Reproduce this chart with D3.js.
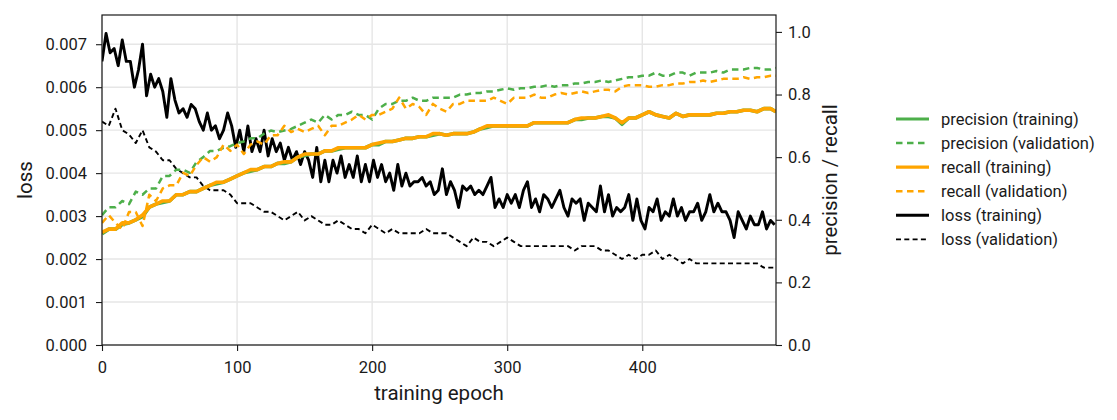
<!DOCTYPE html>
<html>
<head>
<meta charset="utf-8">
<script src="https://cdn.jsdelivr.net/npm/d3@7"></script>
<style>
  body { margin: 0; background: #fff; }
  svg text { font-family: Roboto, "DejaVu Sans", sans-serif; fill: #1a1a1a; }
  .axis path, .axis line { stroke: #1a1a1a; stroke-width: 1.1; }
  .grid line { stroke: #e6e6e6; stroke-width: 1.4; }
</style>
</head>
<body>
<svg id="chart" width="1117" height="420"></svg>
<script>
// epochs for the validation / precision / recall readings (every 5)
var epochs = [0,5,10,15,20,25,30,35,40,45,50,55,60,65,70,75,80,85,90,95,
  100,105,110,115,120,125,130,135,140,145,150,155,160,165,170,175,180,185,190,195,
  200,205,210,215,220,225,230,235,240,245,250,255,260,265,270,275,280,285,290,295,
  300,305,310,315,320,325,330,335,340,345,350,355,360,365,370,375,380,385,390,395,
  400,405,410,415,420,425,430,435,440,445,450,455,460,465,470,475,480,485,490,495,499];

// epochs for the training loss readings (every 3, it is the noisiest line)
var lossEpochs = [0,3,6,9,12,15,18,21,24,27,30,33,36,39,42,45,48,51,54,57,
  60,63,66,69,72,75,78,81,84,87,90,93,96,99,102,105,108,111,114,117,
  120,123,126,129,132,135,138,141,144,147,150,153,156,159,162,165,168,171,174,177,
  180,183,186,189,192,195,198,201,204,207,210,213,216,219,222,225,228,231,234,237,
  240,243,246,249,252,255,258,261,264,267,270,273,276,279,282,285,288,291,294,297,
  300,303,306,309,312,315,318,321,324,327,330,333,336,339,342,345,348,351,354,357,
  360,363,366,369,372,375,378,381,384,387,390,393,396,399,402,405,408,411,414,417,
  420,423,426,429,432,435,438,441,444,447,450,453,456,459,462,465,468,471,474,477,
  480,483,486,489,492,495,498];

var lossTrain = [0.0066,0.00725,0.0068,0.0069,0.0065,0.0071,0.0066,0.0066,0.0060,0.0064,
  0.0070,0.0058,0.0063,0.0060,0.0062,0.0059,0.0053,0.0062,0.0057,0.0054,
  0.0055,0.0053,0.0056,0.0055,0.0052,0.0050,0.0054,0.0050,0.0051,0.0048,
  0.0050,0.0054,0.0051,0.0046,0.0050,0.0045,0.0051,0.0045,0.0048,0.0045,
  0.0050,0.0044,0.0048,0.0045,0.0047,0.0043,0.0046,0.0043,0.0045,0.0042,
  0.0045,0.0043,0.0039,0.0046,0.0038,0.0043,0.0038,0.0043,0.0040,0.0044,
  0.0039,0.0042,0.0039,0.0044,0.0038,0.0042,0.0038,0.0043,0.0039,0.0042,
  0.0038,0.0040,0.0036,0.0042,0.0037,0.0040,0.0037,0.0038,0.0038,0.0039,
  0.0037,0.0038,0.0035,0.0036,0.0041,0.0035,0.0038,0.0036,0.0032,0.0037,
  0.0036,0.0037,0.0035,0.0036,0.0035,0.0037,0.0039,0.0032,0.0034,0.0032,
  0.0035,0.0033,0.0035,0.0032,0.0036,0.0038,0.0032,0.0034,0.0031,0.0035,
  0.0034,0.0032,0.0034,0.0036,0.0032,0.0030,0.0034,0.0033,0.0034,0.0029,
  0.0033,0.0032,0.0031,0.0037,0.0031,0.0035,0.0030,0.0032,0.0031,0.0032,
  0.0035,0.0029,0.0034,0.0029,0.0027,0.0032,0.0031,0.0034,0.0029,0.0031,
  0.0030,0.0034,0.0030,0.0032,0.0029,0.0031,0.0031,0.0033,0.0029,0.0031,
  0.0035,0.0031,0.0033,0.0031,0.0031,0.0029,0.0025,0.0031,0.0029,0.0027,
  0.0030,0.0028,0.0028,0.0031,0.0027,0.0029,0.0028];

var lossVal = [0.0052,0.0051,0.0055,0.0050,0.0049,0.0047,0.0050,0.0046,0.0045,0.0043,
  0.0043,0.0041,0.0040,0.0039,0.0039,0.0037,0.0036,0.0036,0.0036,0.0035,
  0.0033,0.0033,0.0033,0.0032,0.0031,0.0031,0.0030,0.0029,0.0030,0.0031,
  0.0029,0.0030,0.0029,0.0028,0.0028,0.0029,0.0028,0.0027,0.0027,0.0026,
  0.0028,0.0027,0.0026,0.0027,0.0026,0.0026,0.0026,0.0026,0.0027,0.0026,
  0.0026,0.0026,0.0025,0.0024,0.0023,0.0025,0.0024,0.0024,0.0023,0.0024,
  0.0025,0.0024,0.0023,0.0023,0.0023,0.0023,0.0023,0.0023,0.0023,0.0023,
  0.0022,0.0023,0.0023,0.0023,0.0022,0.0022,0.0021,0.0020,0.0021,0.0020,
  0.0021,0.0021,0.0022,0.0020,0.0021,0.0020,0.0019,0.0020,0.0019,0.0019,
  0.0019,0.0019,0.0019,0.0019,0.0019,0.0019,0.0019,0.0019,0.0018,0.0018,0.0018];

var recallTrain = [0.36,0.37,0.37,0.39,0.39,0.40,0.415,0.44,0.45,0.46,
  0.46,0.48,0.48,0.49,0.49,0.50,0.51,0.52,0.52,0.53,
  0.54,0.55,0.56,0.56,0.57,0.57,0.58,0.585,0.585,0.60,
  0.61,0.61,0.61,0.62,0.62,0.63,0.63,0.63,0.63,0.63,
  0.64,0.645,0.65,0.65,0.655,0.66,0.66,0.665,0.665,0.675,
  0.675,0.67,0.675,0.675,0.675,0.68,0.69,0.70,0.70,0.70,
  0.70,0.70,0.70,0.70,0.71,0.71,0.71,0.71,0.71,0.71,
  0.72,0.725,0.725,0.725,0.73,0.735,0.725,0.71,0.725,0.725,
  0.735,0.745,0.735,0.73,0.725,0.74,0.73,0.735,0.735,0.735,
  0.735,0.74,0.74,0.745,0.745,0.75,0.75,0.745,0.755,0.755,0.745];

var precisionTrain = [0.355,0.37,0.37,0.385,0.39,0.40,0.41,0.44,0.45,0.455,
  0.46,0.48,0.48,0.49,0.49,0.50,0.51,0.515,0.52,0.53,
  0.54,0.55,0.555,0.56,0.57,0.57,0.58,0.58,0.585,0.60,
  0.605,0.61,0.61,0.62,0.62,0.625,0.63,0.63,0.63,0.63,
  0.64,0.64,0.65,0.65,0.655,0.66,0.66,0.665,0.665,0.67,
  0.675,0.67,0.675,0.675,0.675,0.68,0.69,0.695,0.70,0.70,
  0.70,0.70,0.70,0.70,0.71,0.71,0.71,0.71,0.71,0.71,
  0.72,0.72,0.725,0.725,0.73,0.73,0.725,0.705,0.725,0.725,
  0.735,0.745,0.735,0.73,0.725,0.74,0.73,0.735,0.735,0.735,
  0.735,0.74,0.74,0.745,0.745,0.75,0.75,0.745,0.755,0.755,0.745];

var precisionVal = [0.415,0.44,0.44,0.46,0.45,0.49,0.48,0.50,0.50,0.54,
  0.54,0.56,0.56,0.55,0.585,0.60,0.62,0.62,0.63,0.635,
  0.645,0.65,0.66,0.66,0.675,0.685,0.68,0.685,0.69,0.70,
  0.71,0.72,0.71,0.735,0.72,0.735,0.735,0.745,0.735,0.735,
  0.72,0.755,0.77,0.77,0.78,0.78,0.79,0.78,0.78,0.79,
  0.79,0.79,0.79,0.80,0.80,0.805,0.805,0.81,0.81,0.815,
  0.82,0.815,0.82,0.82,0.825,0.825,0.83,0.825,0.83,0.83,
  0.835,0.835,0.84,0.84,0.845,0.84,0.845,0.85,0.855,0.855,
  0.86,0.86,0.87,0.86,0.86,0.87,0.87,0.86,0.87,0.87,
  0.87,0.875,0.87,0.88,0.88,0.88,0.885,0.885,0.88,0.88,0.885];

var recallVal = [0.39,0.415,0.39,0.37,0.425,0.425,0.38,0.48,0.46,0.50,
  0.51,0.51,0.55,0.54,0.575,0.60,0.585,0.60,0.64,0.62,
  0.64,0.61,0.64,0.65,0.64,0.67,0.67,0.70,0.68,0.69,
  0.68,0.69,0.70,0.67,0.70,0.70,0.71,0.72,0.735,0.72,
  0.735,0.735,0.745,0.755,0.79,0.755,0.77,0.76,0.735,0.77,
  0.755,0.745,0.77,0.77,0.78,0.78,0.78,0.78,0.79,0.78,
  0.77,0.79,0.79,0.79,0.80,0.79,0.79,0.80,0.805,0.80,
  0.805,0.81,0.805,0.81,0.815,0.815,0.81,0.825,0.83,0.83,
  0.83,0.825,0.825,0.83,0.83,0.835,0.835,0.84,0.84,0.845,
  0.84,0.845,0.85,0.85,0.85,0.855,0.85,0.855,0.855,0.86,0.86];

var lossTicks = [0, 0.001, 0.002, 0.003, 0.004, 0.005, 0.006, 0.007];
var prTicks = [0, 0.2, 0.4, 0.6, 0.8, 1.0];
var epochTicks = [0, 100, 200, 300, 400];

var green = "#4daf4a", orange = "#ffa500", black = "#000";

var svg = d3.select("#chart"),
    margin = {top: 15, right: 341, bottom: 75, left: 102},
    width = +svg.attr("width") - margin.left - margin.right,
    height = +svg.attr("height") - margin.top - margin.bottom;

var x = d3.scaleLinear().domain([0, 499]).range([0, width]);
var yLoss = d3.scaleLinear().domain([0, 0.00768]).range([height, 0]);
var yPR = d3.scaleLinear().domain([0, 1.054]).range([height, 0]);

var g = svg.append("g")
    .attr("transform", "translate(" + margin.left + "," + margin.top + ")");

// grid lines (vertical from epochs, horizontal from loss axis)
g.append("g").attr("class", "grid")
    .selectAll("line").data(epochTicks).enter().append("line")
    .attr("x1", function (d) { return x(d); }).attr("x2", function (d) { return x(d); })
    .attr("y1", 0).attr("y2", height);
g.append("g").attr("class", "grid")
    .selectAll("line").data(lossTicks).enter().append("line")
    .attr("x1", 0).attr("x2", width)
    .attr("y1", function (d) { return yLoss(d); }).attr("y2", function (d) { return yLoss(d); });

g.append("clipPath").attr("id", "clip").append("rect")
    .attr("width", width).attr("height", height);
var lines = g.append("g").attr("clip-path", "url(#clip)");

function drawLine(xs, values, yScale, color, w, dash) {
    var line = d3.line()
        .x(function (d, i) { return x(xs[i]); })
        .y(function (d) { return yScale(d); });
    lines.append("path")
        .datum(values)
        .attr("fill", "none")
        .attr("stroke", color)
        .attr("stroke-width", w)
        .attr("stroke-linejoin", "round")
        .attr("stroke-dasharray", dash || null)
        .attr("d", line);
}

// loss on the left axis drawn first, the twin axis lines sit on top
drawLine(lossEpochs, lossTrain, yLoss, black, 2.9, null);
drawLine(epochs, lossVal, yLoss, black, 1.9, "5,3.3");
drawLine(epochs, precisionTrain, yPR, green, 3.6, null);
drawLine(epochs, precisionVal, yPR, green, 2.5, "6.5,4.5");
drawLine(epochs, recallTrain, yPR, orange, 3.6, null);
drawLine(epochs, recallVal, yPR, orange, 2.5, "6.5,4.5");

// axes
function styleAxis(s) {
    s.selectAll("text").attr("font-size", 16.5);
    s.select(".domain").remove();
}
g.append("g").attr("class", "axis")
    .attr("transform", "translate(0," + height + ")")
    .call(d3.axisBottom(x).tickValues(epochTicks).tickSize(6).tickPadding(10))
    .call(styleAxis);
g.append("g").attr("class", "axis")
    .call(d3.axisLeft(yLoss).tickValues(lossTicks).tickFormat(d3.format(".3f")).tickSize(6).tickPadding(9))
    .call(styleAxis);
g.append("g").attr("class", "axis")
    .attr("transform", "translate(" + width + ",0)")
    .call(d3.axisRight(yPR).tickValues(prTicks).tickFormat(d3.format(".1f")).tickSize(6).tickPadding(6))
    .call(styleAxis);

// frame
g.append("rect").attr("width", width).attr("height", height)
    .attr("fill", "none").attr("stroke", "#1a1a1a").attr("stroke-width", 1.2);

// axis titles
svg.append("text").attr("x", margin.left + width / 2).attr("y", 400)
    .attr("text-anchor", "middle").attr("font-size", 20.5).text("training epoch");
svg.append("text").attr("transform", "translate(32," + (margin.top + height / 2) + ") rotate(-90)")
    .attr("text-anchor", "middle").attr("font-size", 20.5).text("loss");
svg.append("text").attr("transform", "translate(837," + (margin.top + height / 2) + ") rotate(-90)")
    .attr("text-anchor", "middle").attr("font-size", 20.5).text("precision / recall");

// legend
var legendItems = [
    {label: "precision (training)", color: green, w: 3.2, dash: null},
    {label: "precision (validation)", color: green, w: 2.6, dash: "6.5,4.5"},
    {label: "recall (training)", color: orange, w: 3.2, dash: null},
    {label: "recall (validation)", color: orange, w: 2.6, dash: "6.5,4.5"},
    {label: "loss (training)", color: black, w: 3, dash: null},
    {label: "loss (validation)", color: black, w: 1.8, dash: "5,3.3"}
];
var legend = svg.append("g").attr("transform", "translate(896,119)");
var li = legend.selectAll("g").data(legendItems).enter().append("g")
    .attr("transform", function (d, i) { return "translate(0," + (i * 24.06) + ")"; });
li.append("line").attr("x1", 0).attr("x2", 33).attr("y1", 0).attr("y2", 0)
    .attr("stroke", function (d) { return d.color; })
    .attr("stroke-width", function (d) { return d.w; })
    .attr("stroke-dasharray", function (d) { return d.dash; });
li.append("text").attr("x", 45).attr("y", 0).attr("dy", "0.35em")
    .attr("font-size", 16.5).text(function (d) { return d.label; });
</script>
</body>
</html>
